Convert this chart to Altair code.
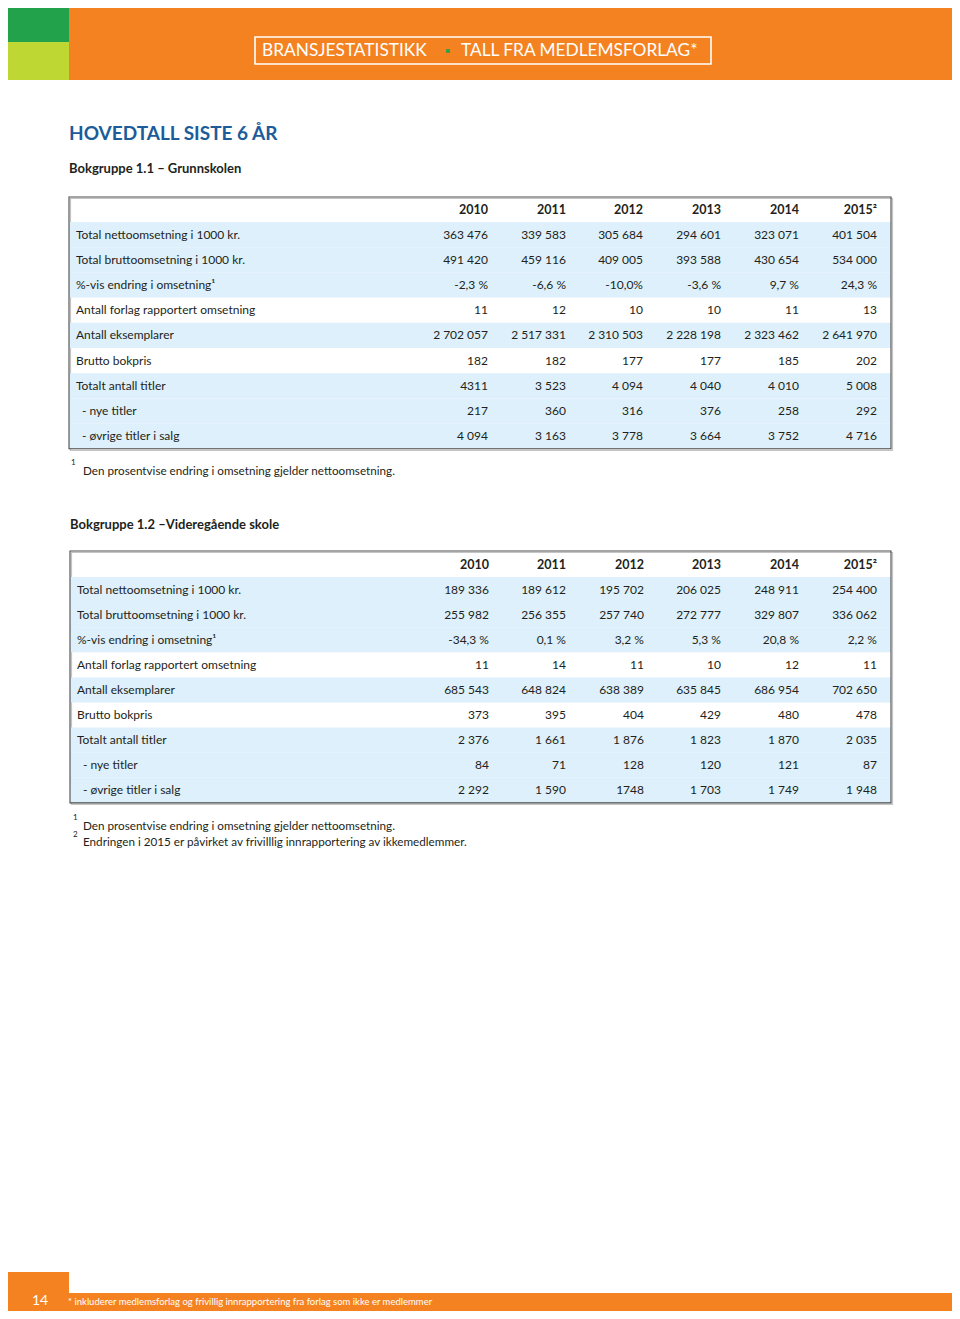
import altair as alt
import pandas as pd

# ---------------- data ----------------
years = ["2010", "2011", "2012", "2013", "2014", "2015²"]

labels_1 = [
    "Total nettoomsetning  i 1000 kr.",
    "Total bruttoomsetning i 1000 kr.",
    "%-vis endring i omsetning¹",
    "Antall forlag rapportert omsetning",
    "Antall eksemplarer",
    "Brutto bokpris",
    "Totalt antall titler",
    "- nye titler",
    "- øvrige titler i salg",
]
netto_1 = ["363 476", "339 583", "305 684", "294 601", "323 071", "401 504"]
brutto_1 = ["491 420", "459 116", "409 005", "393 588", "430 654", "534 000"]
endring_1 = ["-2,3 %", "-6,6 %", "-10,0%", "-3,6 %", "9,7 %", "24,3 %"]
forlag_1 = ["11", "12", "10", "10", "11", "13"]
eksemplarer_1 = ["2 702 057", "2 517 331", "2 310 503", "2 228 198", "2 323 462", "2 641 970"]
bokpris_1 = ["182", "182", "177", "177", "185", "202"]
titler_1 = ["4311", "3 523", "4 094", "4 040", "4 010", "5 008"]
nye_1 = ["217", "360", "316", "376", "258", "292"]
ovrige_1 = ["4 094", "3 163", "3 778", "3 664", "3 752", "4 716"]

labels_2 = [
    "Total nettoomsetning i 1000 kr.",
    "Total bruttoomsetning i 1000 kr.",
    "%-vis endring i omsetning¹",
    "Antall forlag rapportert omsetning",
    "Antall eksemplarer",
    "Brutto bokpris",
    "Totalt antall titler",
    "- nye titler",
    "- øvrige titler i salg",
]
netto_2 = ["189 336", "189 612", "195 702", "206 025", "248 911", "254 400"]
brutto_2 = ["255 982", "256 355", "257 740", "272 777", "329 807", "336 062"]
endring_2 = ["-34,3 %", "0,1 %", "3,2 %", "5,3 %", "20,8 %", "2,2 %"]
forlag_2 = ["11", "14", "11", "10", "12", "11"]
eksemplarer_2 = ["685 543", "648 824", "638 389", "635 845", "686 954", "702 650"]
bokpris_2 = ["373", "395", "404", "429", "480", "478"]
titler_2 = ["2 376", "1 661", "1 876", "1 823", "1 870", "2 035"]
nye_2 = ["84", "71", "128", "120", "121", "87"]
ovrige_2 = ["2 292", "1 590", "1748", "1 703", "1 749", "1 948"]

shaded_rows = [True, True, True, False, True, False, True, True, True]

title = "HOVEDTALL SISTE 6 ÅR"
sub_1 = "Bokgruppe 1.1 – Grunnskolen"
sub_2 = "Bokgruppe 1.2 –Videregående skole"
note_1 = "Den prosentvise endring i omsetning gjelder nettoomsetning."
note_2 = "Endringen i 2015 er påvirket av frivilllig innrapportering av ikkemedlemmer."
banner_left = "BRANSJESTATISTIKK"
banner_right = "TALL FRA MEDLEMSFORLAG*"
footer_note = "* inkluderer medlemsforlag og frivillig innrapportering fra forlag som ikke er medlemmer"
page_no = "14"

values_1 = [netto_1, brutto_1, endring_1, forlag_1, eksemplarer_1, bokpris_1, titler_1, nye_1, ovrige_1]
values_2 = [netto_2, brutto_2, endring_2, forlag_2, eksemplarer_2, bokpris_2, titler_2, nye_2, ovrige_2]

# ---------------- style ----------------
FONT = "Lato"
ORANGE = "#F58220"
DKGREEN = "#22A24A"
LIME = "#BED733"
BLUE_TITLE = "#1C5C9B"
ROW_BG = "#DDF0FB"
INK = "#231F20"
W, H = 944, 1303
X0, X1, Y0, Y1 = 8, 952, 8, 1311   # visible page window (page margin is 8px)

xs = alt.Scale(domain=[X0, X1], range=[0, W], zero=False, nice=False)
ys = alt.Scale(domain=[Y0, Y1], reverse=True, zero=False, nice=False)


def cx(v):
    return min(max(v, X0), X1)


def cy(v):
    return min(max(v, Y0), Y1)


def R(x, x2, y, y2, **extra):
    d = {"x": cx(x), "x2": cx(x2), "y": cy(y), "y2": cy(y2)}
    d.update(extra)
    return d


def rect_layer(df, **mark):
    return alt.Chart(df).mark_rect(**mark).encode(
        x=alt.X("x:Q", scale=xs, axis=None),
        x2="x2:Q",
        y=alt.Y("y:Q", scale=ys, axis=None),
        y2="y2:Q",
        color=alt.Color("fill:N", scale=None, legend=None),
    )


def box_layer(df, **mark):
    return alt.Chart(df).mark_rect(fill=None, **mark).encode(
        x=alt.X("x:Q", scale=xs, axis=None),
        x2="x2:Q",
        y=alt.Y("y:Q", scale=ys, axis=None),
        y2="y2:Q",
    )


def text_layer(df, **mark):
    base = dict(font=FONT, baseline="middle", color=INK, fontSize=12)
    base.update(mark)
    return alt.Chart(df).mark_text(**base).encode(
        x=alt.X("x:Q", scale=xs, axis=None),
        y=alt.Y("y:Q", scale=ys, axis=None),
        text="t:N",
    )


layers = []

# ---- header banner / footer bands ----
layers.append(rect_layer(pd.DataFrame([
    R(0, 960, 0, 80, fill=ORANGE),
    R(0, 69, 0, 42, fill=DKGREEN),
    R(0, 69, 42, 80, fill=LIME),
    R(0, 69, 1272, 1319, fill=ORANGE),
    R(69, 960, 1293, 1319, fill=ORANGE),
])))
layers.append(box_layer(pd.DataFrame([R(255, 711, 37, 64)]),
                        stroke="white", strokeWidth=1.6))
layers.append(text_layer(pd.DataFrame([{"x": 262, "y": 51, "t": banner_left},
                                       {"x": 461, "y": 51, "t": banner_right}]),
                         align="left", color="white", fontSize=17.3))
layers.append(alt.Chart(pd.DataFrame([{"x": 448, "y": 51}])).mark_square(
    color=DKGREEN, size=14, opacity=1).encode(
    x=alt.X("x:Q", scale=xs, axis=None), y=alt.Y("y:Q", scale=ys, axis=None)))

# ---- titles ----
layers.append(text_layer(pd.DataFrame([{"x": 69, "y": 134, "t": title}]),
                         align="left", color=BLUE_TITLE, fontSize=19, fontWeight="bold"))
layers.append(text_layer(pd.DataFrame([{"x": 69, "y": 169, "t": sub_1},
                                       {"x": 70, "y": 525, "t": sub_2}]),
                         align="left", fontSize=13, fontWeight="bold"))


def table(labels, values, left, right, top, head_h, row_h, col_right, label_x):
    out = []
    bottom = top + head_h + row_h * len(labels)
    bg = []
    for i, shaded in enumerate(shaded_rows):
        if shaded:
            y0 = top + head_h + i * row_h
            bg.append(R(left, right, y0, y0 + row_h, fill=ROW_BG))
    # soft shadow on right/bottom
    out.append(box_layer(pd.DataFrame([R(left + 1.5, right + 1.5, top + 1.5, bottom + 1.5)]),
                         stroke="#C4C4C4", strokeWidth=1.2))
    out.append(rect_layer(pd.DataFrame(bg)))
    out.append(box_layer(pd.DataFrame([R(left, right, top, bottom)]),
                         stroke="#4A4A4A", strokeWidth=1.1))
    # header
    hdr = [{"x": col_right[j], "y": top + head_h / 2 + 0.5, "t": yr} for j, yr in enumerate(years)]
    out.append(text_layer(pd.DataFrame(hdr), align="right", fontWeight="bold", fontSize=12.5))
    # labels
    lab = []
    for i, l in enumerate(labels):
        lab.append({"x": label_x + (6 if l.startswith("-") else 0),
                    "y": top + head_h + (i + 0.5) * row_h, "t": l})
    out.append(text_layer(pd.DataFrame(lab), align="left"))
    # values
    vals = []
    for i, row in enumerate(values):
        for j, v in enumerate(row):
            vals.append({"x": col_right[j], "y": top + head_h + (i + 0.5) * row_h, "t": v})
    out.append(text_layer(pd.DataFrame(vals), align="right"))
    return out


layers += table(labels_1, values_1, 69, 891, 197, 25, 25.2,
                [488, 566, 643, 721, 799, 877], 76)
layers += table(labels_2, values_2, 70, 891, 551, 26, 25.1,
                [489, 566, 644, 721, 799, 877], 77)

# ---- footnotes ----
layers.append(text_layer(pd.DataFrame([{"x": 71, "y": 463, "t": "1"},
                                       {"x": 73, "y": 818, "t": "1"},
                                       {"x": 73, "y": 835, "t": "2"}]),
                         align="left", fontSize=8))
layers.append(text_layer(pd.DataFrame([{"x": 83, "y": 471, "t": note_1},
                                       {"x": 83, "y": 826, "t": note_1},
                                       {"x": 83, "y": 842, "t": note_2}]),
                         align="left", fontSize=11.7))

# ---- footer ----
layers.append(text_layer(pd.DataFrame([{"x": 40, "y": 1301, "t": page_no}]),
                         align="center", color="white", fontSize=14))
layers.append(text_layer(pd.DataFrame([{"x": 68, "y": 1302, "t": footer_note}]),
                         align="left", color="white", fontSize=9.5))

chart = alt.layer(*layers).properties(
    width=W, height=H,
    autosize=alt.AutoSizeParams(type="none"),
    padding=0,
).configure_view(stroke=None)

chart.save("out.html", embed_options={"renderer": "svg", "actions": False})
